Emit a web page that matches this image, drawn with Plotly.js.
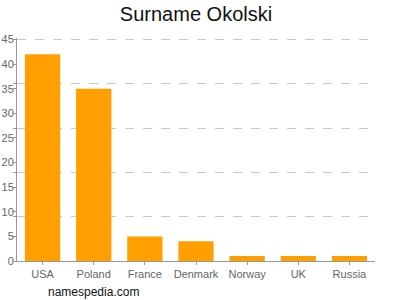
<!DOCTYPE html>
<html>
<head>
<meta charset="utf-8">
<script src="https://cdn.plot.ly/plotly-3.0.1.min.js"></script>
<style>html,body{margin:0;padding:0;background:#fff;}#chart{width:400px;height:300px;}</style>
</head>
<body>
<div id="chart"></div>
<script>
const countries = ["USA", "Poland", "France", "Denmark", "Norway", "UK", "Russia"];
const counts = [42, 35, 5, 4, 1, 1, 1];
const titleText = "Surname Okolski";
const sourceText = "namespedia.com";

const traces = [
  {
    type: "bar",
    x: countries,
    y: counts,
    marker: {color: "#ffa000"},
    hoverinfo: "skip",
    showlegend: false
  },
  {
    type: "scatter",
    mode: "markers",
    x: countries,
    y: countries.map(() => null),
    yaxis: "y2",
    hoverinfo: "skip",
    showlegend: false
  }
];

const layout = {
  width: 400,
  height: 300,
  margin: {l: 17, r: 25, t: 38, b: 39},
  paper_bgcolor: "#fff",
  plot_bgcolor: "#fff",
  bargap: 0.31,
  title: {
    text: titleText,
    font: {family: "Liberation Sans, Arial, sans-serif", size: 20, color: "#111"},
    x: 0.49, xanchor: "center", y: 0.953, yanchor: "middle"
  },
  xaxis: {
    type: "category",
    showline: true,
    linecolor: "#999",
    linewidth: 1,
    ticks: "outside",
    ticklen: 3,
    tickcolor: "#999",
    showgrid: false,
    tickfont: {family: "Liberation Sans, Arial, sans-serif", size: 11, color: "#666"},
    fixedrange: true
  },
  yaxis: {
    range: [0, 45.3],
    dtick: 5,
    tick0: 0,
    showline: true,
    linecolor: "#999",
    linewidth: 1,
    ticks: "outside",
    ticklen: 3,
    tickcolor: "#999",
    showgrid: false,
    zeroline: false,
    tickfont: {family: "Liberation Sans, Arial, sans-serif", size: 11, color: "#666"},
    ticklabelstandoff: -3,
    fixedrange: true
  },
  yaxis2: {
    overlaying: "y",
    side: "left",
    range: [0, 45.3],
    dtick: 9,
    tick0: 0,
    showgrid: true,
    gridcolor: "#c8c8c8",
    griddash: "dash",
    gridwidth: 1,
    showticklabels: false,
    ticks: "outside",
    ticklen: 3,
    tickcolor: "#999",
    showline: false,
    zeroline: false,
    fixedrange: true
  },
  annotations: [
    {
      text: sourceText,
      xref: "paper", yref: "paper",
      x: (46 - 17) / 358, xanchor: "left",
      y: -0.14, yanchor: "middle",
      showarrow: false,
      font: {family: "Liberation Sans, Arial, sans-serif", size: 12, color: "#111"}
    }
  ]
};

Plotly.newPlot("chart", traces, layout, {staticPlot: true, displayModeBar: false});
</script>
</body>
</html>
